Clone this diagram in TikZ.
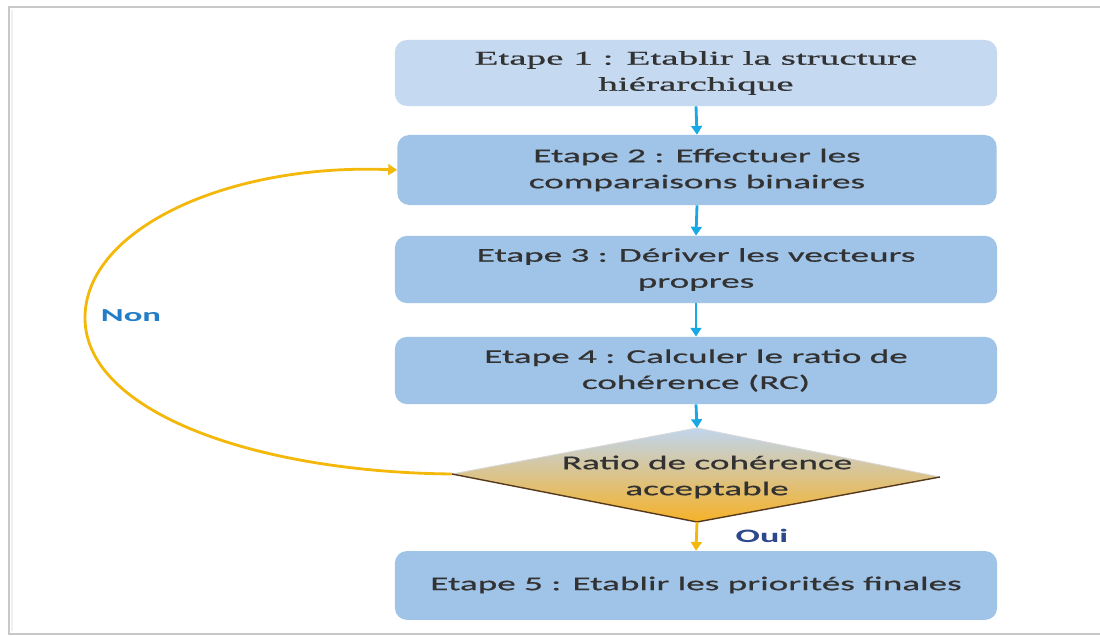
\documentclass[tikz,border=0pt]{standalone}
\usepackage{fontspec}
\setmainfont{Carlito}[FakeStretch=1.9]
\newfontfamily\boxsans{Carlito}[FakeStretch=1.9, FakeBold=0.7]
\newfontfamily\boxserif{Liberation Serif}[FakeStretch=2.0, FakeBold=0.7]
\usetikzlibrary{arrows.meta,shadings}
\definecolor{boxlight}{RGB}{197,217,240}
\definecolor{boxmid}{RGB}{160,195,232}
\definecolor{txt}{RGB}{50,50,50}
\definecolor{arrblue}{RGB}{24,168,228}
\definecolor{arryel}{RGB}{244,184,10}
\definecolor{nonblue}{RGB}{35,125,200}
\definecolor{ouiblue}{RGB}{45,72,140}
\definecolor{dtop}{RGB}{192,213,238}
\definecolor{dmid}{RGB}{222,203,160}
\definecolor{dbot}{RGB}{246,178,40}
\definecolor{frame}{RGB}{200,200,200}
\tikzset{
  stepbox/.style={fill=boxmid, rounded corners=0.3cm, minimum width=15.05cm, align=center,
    text=txt, font=\boxsans\fontsize{13.9}{18.5}\selectfont, inner sep=0pt},
  barrow/.style={draw=arrblue, line width=2pt, -{Triangle[width=0.27cm,length=0.22cm]}},
  yarrow/.style={draw=arryel, line width=2pt, -{Triangle[width=0.27cm,length=0.22cm]}},
}
\begin{document}
\begin{tikzpicture}[x=0.025cm, y=-0.025cm]
\useasboundingbox (0,0) rectangle (1100,636);
\fill[white] (0,0) rectangle (1100,636);
% frame
\draw[frame, line width=1.2pt] (1100,7) -- (9,7) -- (9,634) -- (1100,634);
\draw[black!6, line width=2pt] (12,10) -- (12,631);

% boxes
\node[stepbox, fill=boxlight, minimum height=1.65cm, font=\boxserif\fontsize{13.9}{18.5}\selectfont]
  (b1) at (696,73) {Etape 1 : Etablir la structure\\hiérarchique};
\node[stepbox, minimum height=1.75cm, minimum width=14.98cm] (b2) at (697,170) {Etape 2 : Effectuer les\\comparaisons binaires};
\node[stepbox, minimum height=1.68cm] (b3) at (696,269.5) {Etape 3 : Dériver les vecteurs\\propres};
\node[stepbox, minimum height=1.68cm] (b4) at (696,370.5) {Etape 4 : Calculer le ratio de\\cohérence (RC)};
\node[stepbox, minimum height=1.72cm] (b5) at (696,585.5) {\raisebox{3pt}{Etape 5 : Etablir les priorités finales}};

% diamond
\coordinate (dT) at (697,428);
\coordinate (dL) at (452,474);
\coordinate (dR) at (940,477);
\coordinate (dB) at (697,522);
\shade[top color=dtop, middle color=dmid, bottom color=dbot] (dT) -- (dR) -- (dB) -- (dL) -- cycle;
\draw[black!15, line width=0.6pt] (dL) -- (dT) -- (dR);
\draw[black!55!brown, line width=1pt] (dL) -- (dB) -- (dR);
\node[text=txt, align=center, font=\boxsans\fontsize{13.9}{18.5}\selectfont] (dtext) at (707,477) {Ratio de cohérence\\acceptable};

% arrows
\draw[barrow] (b1.south) -- (b2.north);
\draw[barrow] (b2.south) -- (b3.north);
\draw[barrow] (b3.south) -- (b4.north);
\draw[barrow] (b4.south) -- (dT);
\draw[yarrow] (dB) -- (b5.north);
\draw[yarrow] (dL) .. controls (250,472) and (85,410) .. (85,318) .. controls (85,228) and (230,163) .. (b2.west);

% labels
\node[text=nonblue, font=\bfseries\fontsize{13}{15}\selectfont] (non) at (131,316) {Non};
\node[text=ouiblue, font=\bfseries\fontsize{13.5}{15}\selectfont] (oui) at (762,536) {Oui};
\end{tikzpicture}
\end{document}
